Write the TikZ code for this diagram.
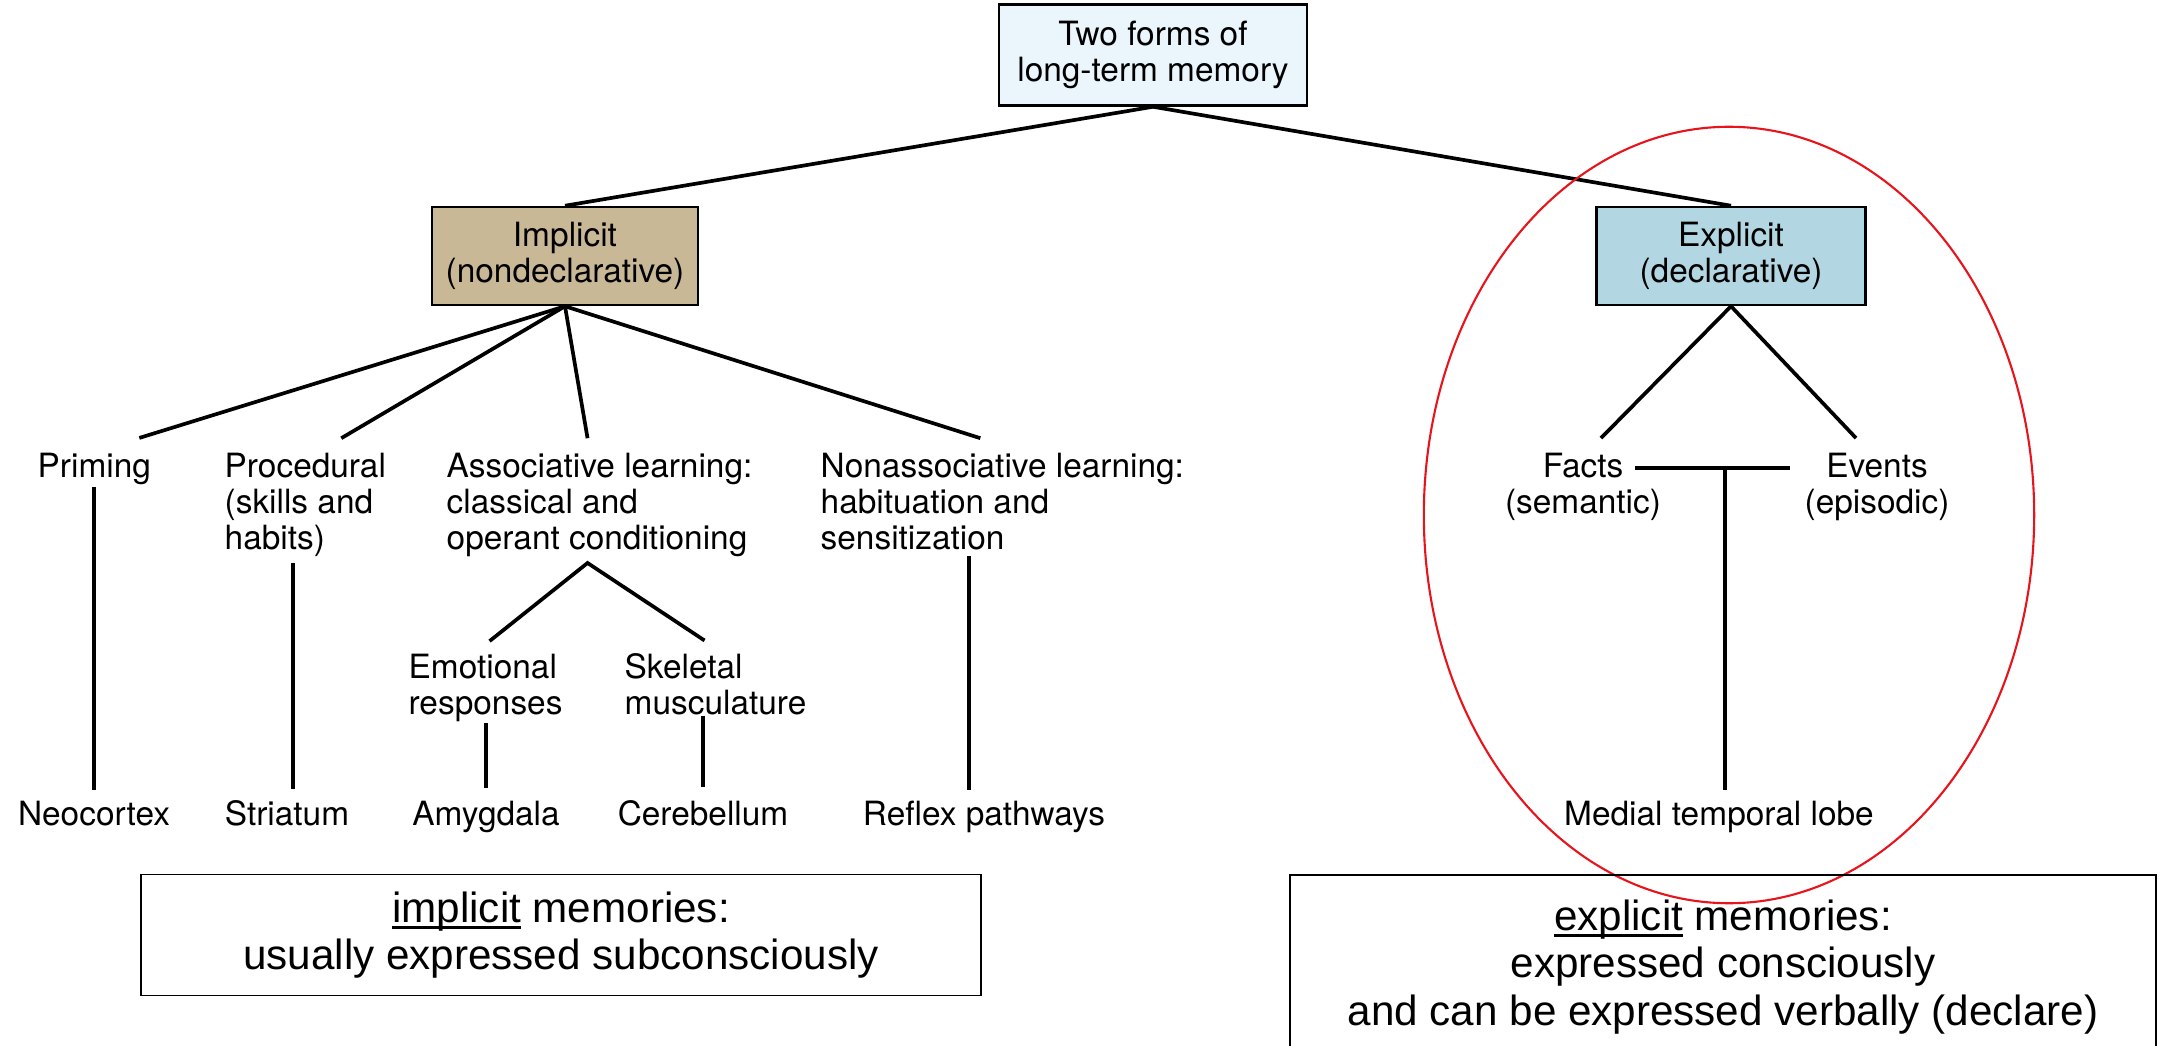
\documentclass[tikz,border=0pt]{standalone}
\usepackage{fontspec}
\setmainfont{TeX Gyre Heros}
\newfontfamily\arialfont{Liberation Sans}
\usetikzlibrary{calc}
\definecolor{topblue}{HTML}{EAF5FC}
\definecolor{imptan}{HTML}{C9B896}
\definecolor{expblue}{HTML}{B2D7E3}
\definecolor{ovalred}{HTML}{E8141B}
\newcommand\ulword[1]{\setbox0\hbox{#1}\rlap{\rule[-2pt]{\wd0}{0.9pt}}\box0\relax}

\begin{document}
\begin{tikzpicture}[x=0.01cm, y=-0.01cm,
    hdr/.style={draw, line width=0.7pt, inner sep=0pt, align=center,
      font=\fontsize{9.5}{10.2}\selectfont},
    lbl/.style={inner sep=0pt, align=left, font=\fontsize{9.5}{10.2}\selectfont},
    note/.style={draw, line width=0.5pt, inner sep=0pt, align=center,
      font=\arialfont\fontsize{12}{13.5}\selectfont},
    link/.style={line width=1.05pt}]
  \clip (0,0) rectangle (2164,1046);

  \node[hdr, fill=topblue, minimum width=3.08cm, minimum height=1.01cm] (ltm) at (1153,55)
    {Two forms of\\long-term memory};
  \node[hdr, fill=imptan, minimum width=2.66cm, minimum height=0.98cm] (impl) at (565,256)
    {Implicit\\(nondeclarative)};
  \node[hdr, fill=expblue, minimum width=2.69cm, minimum height=0.98cm] (expl) at (1731,256)
    {Explicit\\(declarative)};

  \node[lbl, anchor=base west] (prim) at (37,477) {Priming};
  \node[lbl, anchor=base west] (proc) at (224,549) {Procedural\\(skills and\\habits)};
  \node[lbl, anchor=base west] (assoc) at (446,549) {Associative learning:\\classical and\\operant conditioning};
  \node[lbl, anchor=base west] (nonassoc) at (820,549) {Nonassociative learning:\\habituation and\\sensitization};
  \node[lbl, anchor=base west] (emo) at (408,714) {Emotional\\responses};
  \node[lbl, anchor=base west] (skel) at (624,714) {Skeletal\\musculature};

  \node[lbl, anchor=base] (neo) at (94,825) {Neocortex};
  \node[lbl, anchor=base] (stri) at (287,825) {Striatum};
  \node[lbl, anchor=base] (amyg) at (486,825) {Amygdala};
  \node[lbl, anchor=base] (cereb) at (703,825) {Cerebellum};
  \node[lbl, anchor=base] (refl) at (984,825) {Reflex pathways};

  \node[lbl, anchor=base, align=center] (facts) at (1583,513) {Facts\\(semantic)};
  \node[lbl, anchor=base, align=center] (events) at (1877,513) {Events\\(episodic)};
  \node[lbl, anchor=base] (mtl) at (1719,825) {Medial temporal lobe};

  \draw[link] (ltm.south) -- (impl.north);
  \draw[link] (ltm.south) -- (expl.north);

  \draw[link] (impl.south) -- ($(prim.north)+(45,-14)$);
  \draw[link] (impl.south) -- ($(proc.north)+(36,-14)$);
  \draw[link] (impl.south) -- ($(assoc.north)+(-12,-14)$);
  \draw[link] (impl.south) -- ($(nonassoc.north)+(-22,-14)$);

  \draw[link] ($(neo.north |- prim.south)+(0,2)$) -- ($(neo.north)+(0,-10)$);
  \draw[link] ($(proc.south)+(-12,6)$) -- ($(proc.south |- stri.north)+(-12,-10)$);
  \coordinate (fork) at ($(assoc.south)+(-12,6)$);
  \draw[link] ($(emo.north)+(4,-12)$) -- (fork) -- ($(skel.north)+(-11,-12)$);
  \draw[link] ($(amyg.north |- emo.south)+(0,1)$) -- ($(amyg.north)+(0,-12)$);
  \draw[link] ($(cereb.north |- skel.south)+(0,1)$) -- ($(cereb.north)+(0,-12)$);
  \draw[link] ($(refl.north |- nonassoc.south)+(-15,6)$) -- ($(refl.north)+(-15,-10)$);

  \draw[link] (expl.south) -- ($(facts.north)+(18,-14)$);
  \draw[link] (expl.south) -- ($(events.north)+(-21,-14)$);
  \draw[link] (1635,468) -- (1790,468);
  \draw[link] (1725,468) -- ($(mtl.north -| 1725,0)+(0,-10)$);

  \draw[ovalred, line width=0.6pt] (1729,515) ellipse [x radius=3.05cm, y radius=3.88cm];

  \node[note, minimum width=8.39cm, minimum height=1.21cm] (impnote) at (561,935)
    {\ulword{implicit} memories:\\usually expressed subconsciously};
  \node[note, minimum width=8.66cm, minimum height=1.84cm] (expnote) at (1723,967)
    {\ulword{explicit} memories:\\expressed consciously\\and can be expressed verbally (declare)};
\end{tikzpicture}
\end{document}
